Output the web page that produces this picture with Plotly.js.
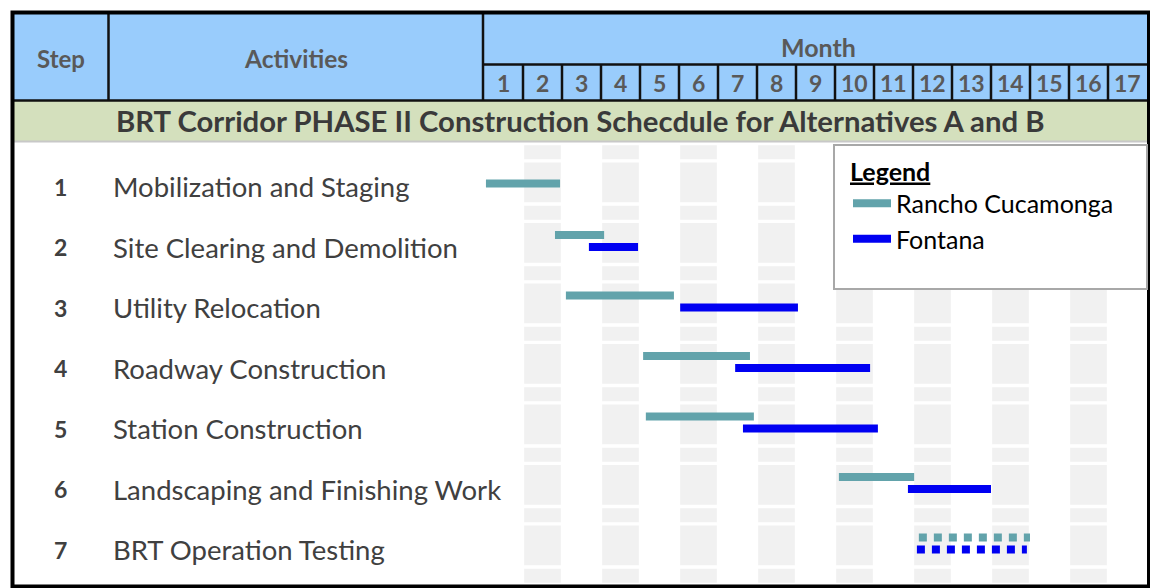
<!DOCTYPE html>
<html>
<head>
<meta charset="utf-8">
<script src="https://cdn.plot.ly/plotly-3.0.1.min.js"></script>
<style>
  html, body { margin: 0; padding: 0; background: #fff; }
  #chart { width: 1150px; height: 588px; }
</style>
</head>
<body>
<div id="chart"></div>
<script>
// schedule data (months elapsed, 0 = start of month 1)
const steps = [1, 2, 3, 4, 5, 6, 7];
const activities = [
  'Mobilization and Staging',
  'Site Clearing and Demolition',
  'Utility Relocation',
  'Roadway Construction',
  'Station Construction',
  'Landscaping and Finishing Work',
  'BRT Operation Testing'
];
const monthLabels = ['1', '2', '3', '4', '5', '6', '7', '8', '9', '10', '11', '12', '13', '14', '15', '16', '17'];
const ranchoStart = [0.05, 1.82, 2.1, 4.08, 4.15, 9.1, 11.15];
const ranchoEnd = [1.95, 3.08, 4.87, 6.82, 6.92, 11.03, 14.0];
const fontanaStart = [null, 2.69, 5.03, 6.44, 6.64, 10.87, 11.1];
const fontanaEnd = [null, 3.95, 8.05, 9.9, 10.1, 13.0, 13.92];
const testingStep = 7; // drawn dotted

// plot box in pixels, used to place the table frame in paper coords
const L = 484, R = 1147, T = 142, B = 584;
const px = x => (x - L) / (R - L);
const py = y => (B - y) / (B - T);

const textGray = '#404040';
const headGray = '#595959';
const font = 'Lato, "Open Sans", sans-serif';

function segments(dotted, which) {
  const xs = [], ys = [];
  steps.forEach((s, i) => {
    if ((s === testingStep) !== dotted) return;
    const st = which === 'r' ? ranchoStart[i] : fontanaStart[i];
    const en = which === 'r' ? ranchoEnd[i] : fontanaEnd[i];
    if (st == null) return;
    let y = s;
    if (which === 'r') y = s - (fontanaStart[i] == null ? 0.05 : 0.2);
    xs.push(st, en, null);
    ys.push(y, y, null);
  });
  return { x: xs, y: ys };
}

const ranchoColor = '#62a3ab';
const fontanaColor = '#0000f2';

const r1 = segments(false, 'r'), f1 = segments(false, 'f');
const r2 = segments(true, 'r'), f2 = segments(true, 'f');

const data = [
  { x: r1.x, y: r1.y, mode: 'lines', type: 'scatter', name: 'Rancho Cucamonga',
    line: { color: ranchoColor, width: 8 }, hoverinfo: 'skip' },
  { x: f1.x, y: f1.y, mode: 'lines', type: 'scatter', name: 'Fontana',
    line: { color: fontanaColor, width: 8 }, hoverinfo: 'skip' },
  { x: r2.x, y: r2.y, mode: 'lines', type: 'scatter', showlegend: false,
    line: { color: ranchoColor, width: 8, dash: '8px,7px' }, hoverinfo: 'skip' },
  { x: f2.x, y: f2.y, mode: 'lines', type: 'scatter', showlegend: false,
    line: { color: fontanaColor, width: 8, dash: '8px,7px' }, hoverinfo: 'skip' }
];

const shapes = [];
// light gray stripes on even months
for (let m = 2; m <= 16; m += 2) {
  for (let r = 0; r <= 7; r++) {
    [[-0.397, 0.262], [0.318, 0.551]].forEach(([a, b]) => {
      shapes.push({ type: 'rect', xref: 'x', yref: 'y', x0: m - 1 + 0.03, x1: m - 0.03,
        y0: r + a, y1: r + b, fillcolor: '#f1f1f1', line: { width: 0 }, layer: 'below' });
    });
  }
}
// header and band
shapes.push({ type: 'rect', xref: 'paper', yref: 'paper', x0: px(12), x1: px(1149), y0: py(12), y1: py(100),
  fillcolor: '#99ccfc', line: { width: 0 }, layer: 'below' });
shapes.push({ type: 'rect', xref: 'paper', yref: 'paper', x0: px(12), x1: px(1149), y0: py(100), y1: py(141),
  fillcolor: '#d4e0bd', line: { width: 0 }, layer: 'below' });
shapes.push({ type: 'line', xref: 'paper', yref: 'paper', x0: px(12), x1: px(1149), y0: py(141.5), y1: py(141.5),
  line: { color: '#c8c8c8', width: 2 }, layer: 'below' });
// header grid lines
const black = { color: '#111', width: 2.5 };
shapes.push({ type: 'line', xref: 'paper', yref: 'paper', x0: px(12), x1: px(1149), y0: py(100.5), y1: py(100.5), line: black });
shapes.push({ type: 'line', xref: 'paper', yref: 'paper', x0: px(108.5), x1: px(108.5), y0: py(12), y1: py(100.5), line: black });
shapes.push({ type: 'line', xref: 'paper', yref: 'paper', x0: px(483), x1: px(483), y0: py(12), y1: py(100.5), line: black });
shapes.push({ type: 'line', xref: 'paper', yref: 'paper', x0: px(483), x1: px(1149), y0: py(64.5), y1: py(64.5), line: black });
for (let k = 1; k < monthLabels.length; k++) {
  shapes.push({ type: 'line', xref: 'paper', yref: 'paper', x0: k / 17, x1: k / 17, y0: py(64.5), y1: py(100.5), line: black });
}
// outer frame
shapes.push({ type: 'rect', xref: 'paper', yref: 'paper', x0: px(12.5), x1: px(1149), y0: py(12.5), y1: py(586.5),
  line: { color: '#000', width: 4 } });
// legend box
shapes.push({ type: 'rect', xref: 'paper', yref: 'paper', x0: px(834), x1: px(1147), y0: py(145), y1: py(289),
  fillcolor: '#fff', line: { color: '#a8a8a8', width: 2 }, layer: 'above' });

const annotations = [];
function note(text, x, y, size, color, anchor, yref) {
  annotations.push({ text: text, x: x, y: y, xref: 'paper', yref: yref || 'paper', showarrow: false,
    xanchor: anchor || 'center', yanchor: 'middle', font: { family: font, size: size, color: color } });
}
note('<b>Step</b>', px(61), py(58), 24, headGray);
note('<b>Activities</b>', px(296), py(58), 24.5, headGray);
note('<b>Month</b>', px(818), py(47), 25, headGray);
monthLabels.forEach((t, k) => note('<b>' + t + '</b>', (k + 0.5) / 17, py(83), 23, headGray));
note('<b>BRT Corridor PHASE II Construction Schecdule for Alternatives A and B</b>', px(580), py(121), 29.3, '#3a3a3a');
steps.forEach((s, i) => {
  note('<b>' + s + '</b>', px(60), s, 23, textGray, 'center', 'y');
  note(activities[i], px(111), s, 27.5, textGray, 'left', 'y');
});

const layout = {
  width: 1150,
  height: 588,
  margin: { l: L, r: 1150 - R, t: T, b: 588 - B, pad: 0 },
  paper_bgcolor: '#fff',
  plot_bgcolor: '#fff',
  font: { family: font },
  showlegend: true,
  legend: {
    x: px(848), y: py(148), xanchor: 'left', yanchor: 'top',
    bgcolor: 'rgba(0,0,0,0)', borderwidth: 0,
    title: { text: '<b><u>Legend</u></b>', font: { family: font, size: 25, color: '#000' } },
    font: { family: font, size: 25, color: '#000' },
    itemwidth: 38, tracegroupgap: 0
  },
  xaxis: { range: [0, 17], showgrid: false, zeroline: false, showticklabels: false, showline: false, fixedrange: true },
  yaxis: { range: [7.570, 0.2645], showgrid: false, zeroline: false, showticklabels: false, showline: false, fixedrange: true },
  shapes: shapes,
  annotations: annotations
};

Plotly.newPlot(document.getElementById('chart'), data, layout, { staticPlot: true, displayModeBar: false });
</script>
</body>
</html>
